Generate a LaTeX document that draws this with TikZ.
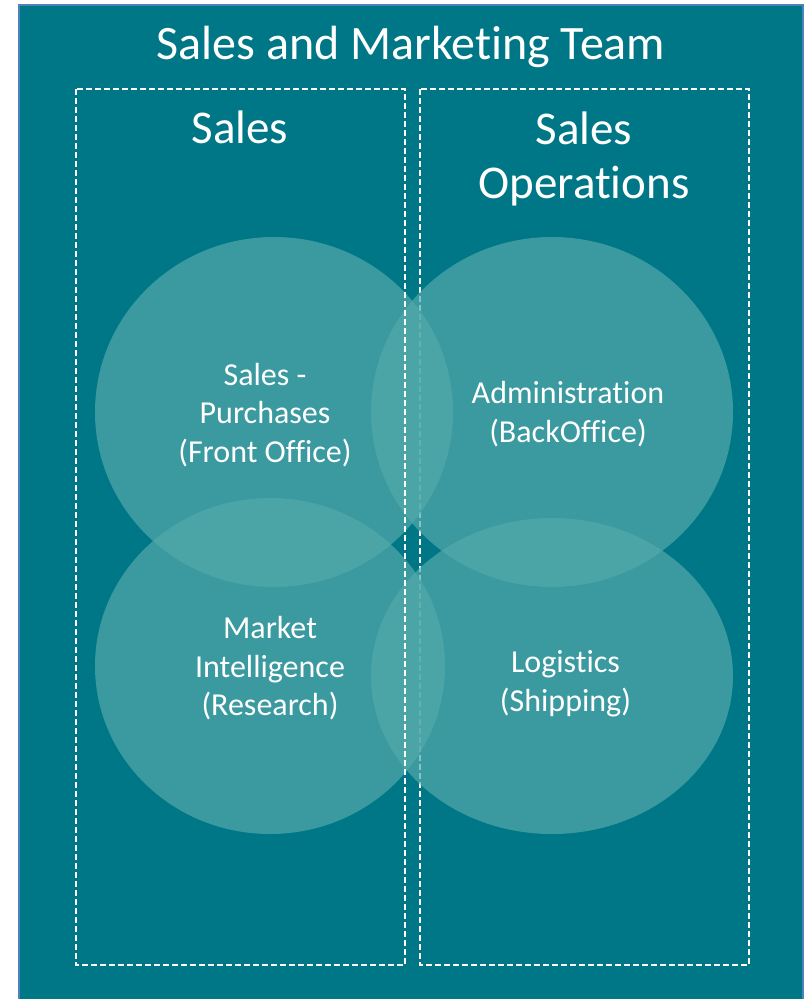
\documentclass[tikz,border=0pt]{standalone}
\usepackage{fontspec}
\setmainfont{Carlito}[Ligatures={NoCommon}]
\usetikzlibrary{calc,positioning}

\definecolor{teamBg}{HTML}{007787}
\definecolor{teamEdge}{HTML}{4F81BD}
\definecolor{bubbleFill}{HTML}{53AAAB}

\tikzset{
  groupBox/.style={draw=white, line width=1.4pt, dash pattern=on 6pt off 3pt},
  bubble/.style={fill=bubbleFill, fill opacity=0.7},
  headText/.style={text=white, font=\fontsize{47}{54}\selectfont, align=center},
  bubbleText/.style={text=white, font=\fontsize{32}{38.5}\selectfont, align=center}
}

\begin{document}
\begin{tikzpicture}[x=1pt,y=-1pt]

\useasboundingbox (0,0) rectangle (805,999);
\draw[fill=teamBg, draw=teamEdge, line width=1.5pt] (19,5) rectangle (803,1010);

\coordinate (cTLPt) at (274,412);
\coordinate (cTRPt) at (552,412);
\coordinate (cBLPt) at (270,666);
\coordinate (cBRPt) at (552,676);

% right box sits under the bubbles
\draw[groupBox] (420,89) rectangle (749,965);

\foreach \v/\rx/\ry in
{cTLPt/179/175,
    cTRPt/181/175,
    cBLPt/175/168,
    cBRPt/181/158
}
{
    \fill[bubble] (\v) ellipse [x radius=\rx, y radius=\ry];
};

\draw[groupBox] (76,89) rectangle (405,965);

\node[headText, anchor=base, font=\fontsize{48}{54}\selectfont] (nTitle) at (411,59) {Sales and Marketing Team};
\node[headText, anchor=base] (nSales) at (240,143) {Sales};
\node[headText] (nSalesOps) at (584,158.5) {Sales\\Operations};

\node[bubbleText] (nFront) at (265,415) {Sales -\\Purchases\\(Front Office)};
\node[bubbleText] (nAdmin) at (568,414) {Administration\\(BackOffice)};
\node[bubbleText] (nMarket) at (270,668.5) {Market\\Intelligence\\(Research)};
\node[bubbleText] (nLogist) at (565.5,683.5) {Logistics\\(Shipping)};

\end{tikzpicture}
\end{document}
